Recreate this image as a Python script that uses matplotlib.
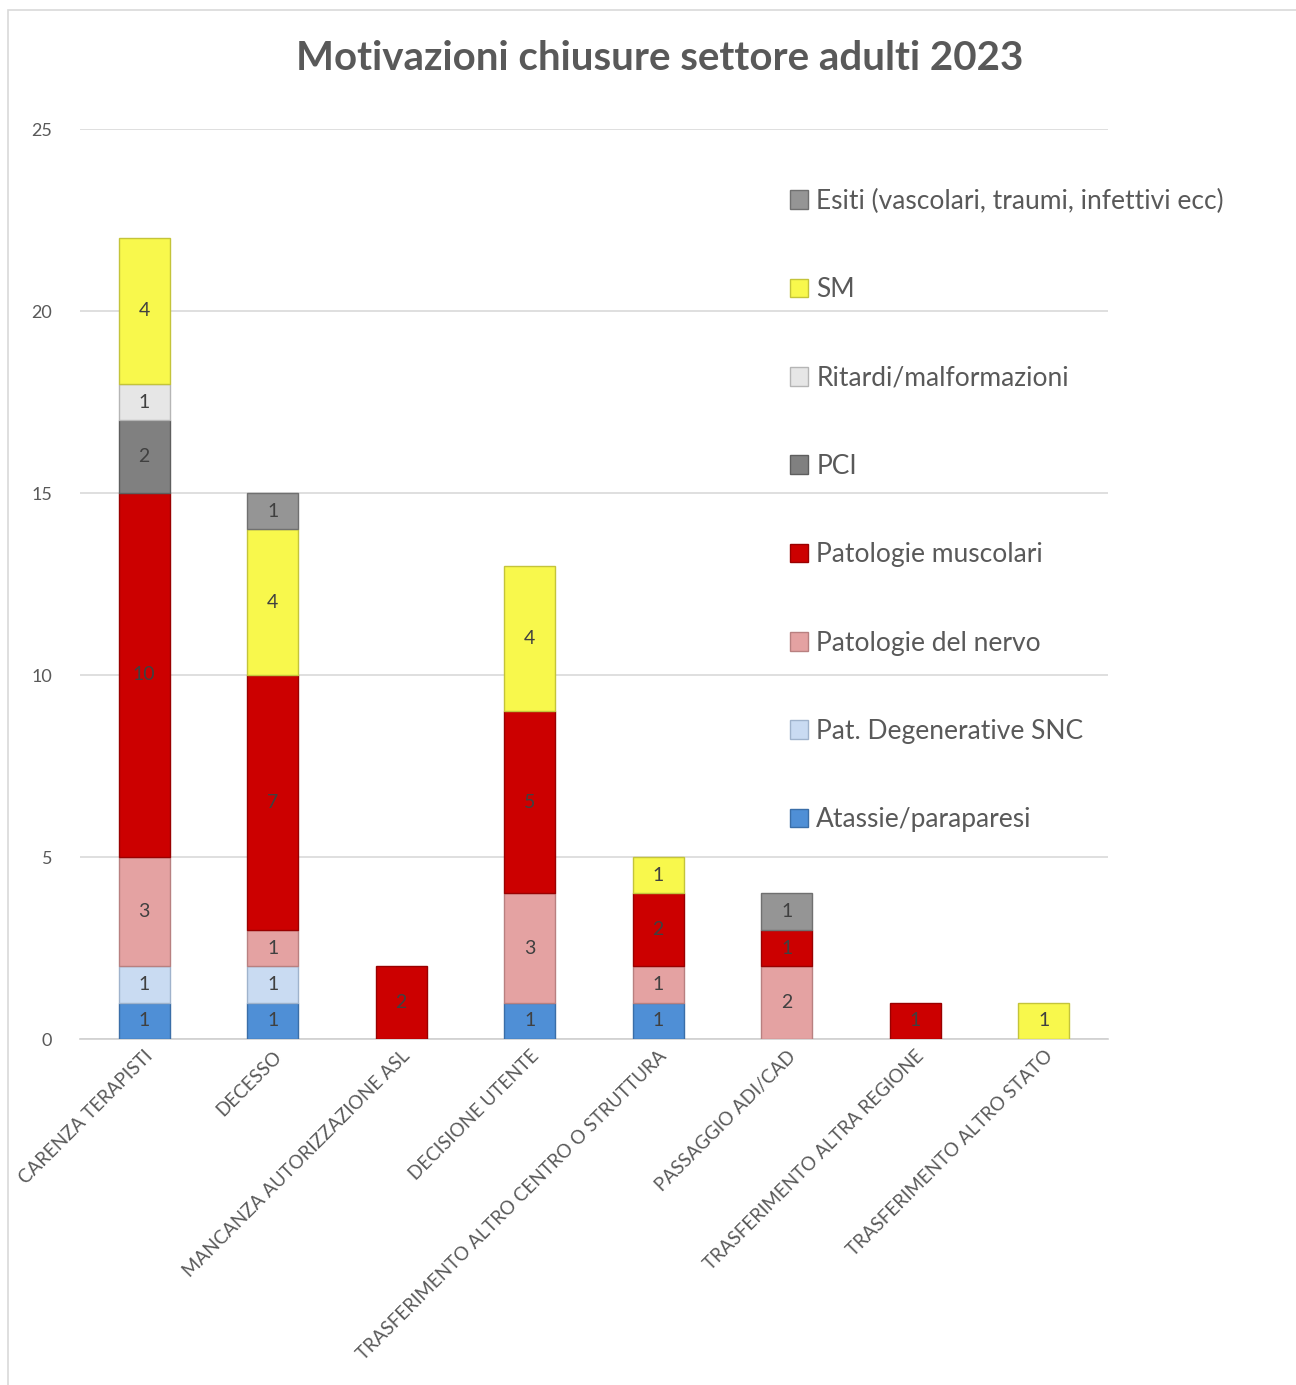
import numpy as np
import matplotlib.pyplot as plt
from matplotlib.patches import Rectangle

# DATA #

categories = ['CARENZA TERAPISTI', 'DECESSO', 'MANCANZA AUTORIZZAZIONE ASL',
              'DECISIONE UTENTE', 'TRASFERIMENTO ALTRO CENTRO O STRUTTURA',
              'PASSAGGIO ADI/CAD', 'TRASFERIMENTO ALTRA REGIONE',
              'TRASFERIMENTO ALTRO STATO']

atassie    = [1, 1, 0, 1, 1, 0, 0, 0]
degenerat  = [1, 1, 0, 0, 0, 0, 0, 0]
nervo      = [3, 1, 0, 3, 1, 2, 0, 0]
muscolari  = [10, 7, 2, 5, 2, 1, 1, 0]
pci        = [2, 0, 0, 0, 0, 0, 0, 0]
ritardi    = [1, 0, 0, 0, 0, 0, 0, 0]
sm         = [4, 4, 0, 4, 1, 0, 0, 1]
esiti      = [0, 1, 0, 0, 0, 1, 0, 0]

series_names = ['Atassie/paraparesi', 'Pat. Degenerative SNC', 'Patologie del nervo',
                'Patologie muscolari', 'PCI', 'Ritardi/malformazioni', 'SM',
                'Esiti (vascolari, traumi, infettivi ecc)']
series_values = [atassie, degenerat, nervo, muscolari, pci, ritardi, sm, esiti]
colors = ['#4f8fd6', '#c9dbf2', '#e4a2a2', '#cc0000', '#808080', '#e6e6e6', '#f8f84c', '#959595']
edges = ['#3a6ea8', '#9fb3cc', '#b88080', '#990000', '#5e5e5e', '#b5b5b5', '#c4c43a', '#707070']

# FIGURE #

plt.rcParams['font.family'] = ['Lato', 'DejaVu Sans']
TXT = '#595959'

fig = plt.figure(figsize=(12.96, 13.85), dpi=100)
fig.patches.append(Rectangle((8/1296, -0.01), 1.1, 1 - 10/1385 + 0.01, transform=fig.transFigure,
                             fill=False, edgecolor='#d9d9d9', linewidth=1.2))

ax = fig.add_axes([80/1296, 1 - 1039/1385, 1028/1296, 910/1385])

x = np.arange(len(categories))
bottom = np.zeros(len(categories))
handles = []
for name, vals, c, e in zip(series_names, series_values, colors, edges):
    vals = np.array(vals, dtype=float)
    nz = vals > 0
    bars = ax.bar(x[nz], vals[nz], 0.4, bottom=bottom[nz], color=c, edgecolor=e,
                  linewidth=1.0, label=name, zorder=3)
    handles.append(bars)
    for xi, v, b in zip(x[nz], vals[nz], bottom[nz]):
        ax.text(xi, b + v / 2, f'{int(v)}', ha='center', va='center',
                fontsize=14, color='#404040', zorder=4)
    bottom += vals

ax.set_xlim(-0.5, len(categories) - 0.5)
ax.set_ylim(0, 25)
ax.set_yticks(range(0, 26, 5))
ax.yaxis.grid(True, color='#d9d9d9', linewidth=1.2, zorder=0)
for s in ['top', 'right', 'left']:
    ax.spines[s].set_visible(False)
ax.spines['bottom'].set_color('#d0d0d0')
ax.spines['bottom'].set_linewidth(1.2)
ax.tick_params(axis='y', length=0, pad=20, labelsize=13, labelcolor=TXT)
ax.tick_params(axis='x', length=0, pad=6, labelsize=13.5, labelcolor=TXT)
ax.set_xticks(x)
ax.set_xticklabels(categories, rotation=45, ha='right', rotation_mode='anchor')

fig.text(660/1296, 1 - 58/1385, 'Motivazioni chiusure settore adulti 2023',
         ha='center', va='center', fontsize=29, fontweight='bold', color=TXT)

leg = fig.legend(handles[::-1], series_names[::-1], loc='upper left',
                 bbox_to_anchor=(766/1296, 1 - 165/1385), frameon=False,
                 fontsize=19, labelcolor=TXT, handlelength=0.7, handleheight=0.7,
                 handletextpad=0.3, labelspacing=2.40)

fig.savefig('out.png', dpi=100)
